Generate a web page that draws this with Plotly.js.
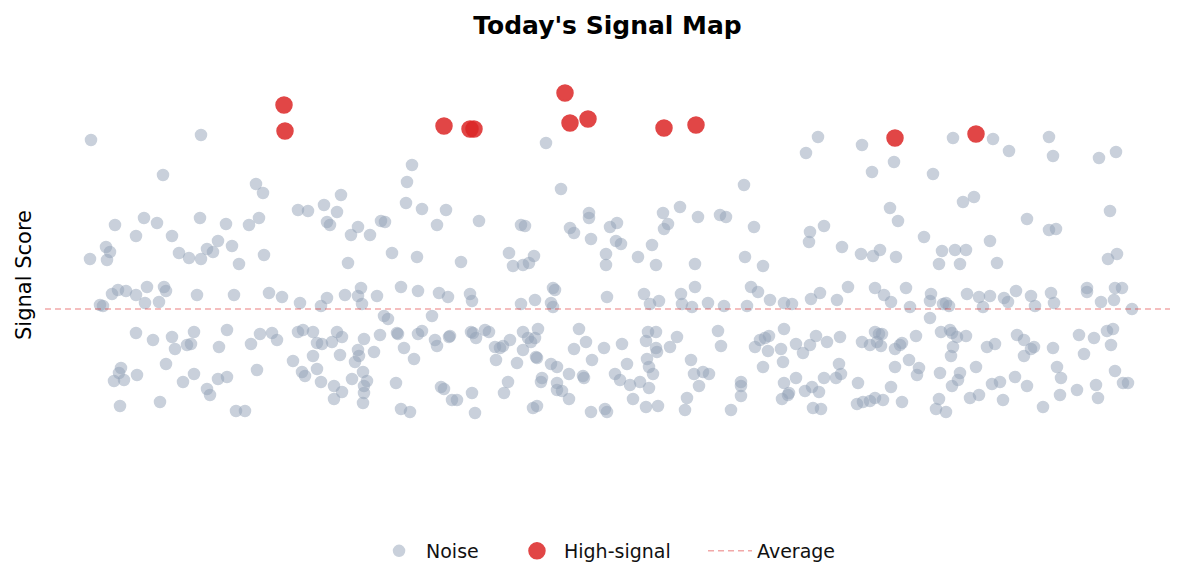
<!DOCTYPE html>
<html>
<head>
<meta charset="utf-8">
<script src="https://cdn.plot.ly/plotly-3.0.1.min.js"></script>
<style>html,body{margin:0;padding:0;background:#fff;}#chart{width:1185px;height:584px;}</style>
</head>
<body>
<div id="chart"></div>
<script>
var chartTitle = "Today's Signal Map";
var yTitle = "Signal Score";
var seriesNames = ["Noise", "High-signal", "Average"];

var noiseX = [46,156,118,211,218,296,253,263,279,292,282,285,70,99,112,155,181,204,214,91,127,61,65,134,162,173,168,187,219,45,144,156,194,62,
67,73,81,91,102,100,114,119,121,152,189,224,237,255,282,276,300,55,58,91,108,127,130,142,146,149,182,174,206,215,227,232,253,258,268,272,277,287,292,297,295,268,248,272,257,260,276,289,297,289,76,74,69,79,92,121,149,138,173,182,162,165,212,75,115,191,200,
501,367,362,516,361,377,401,544,544,565,313,306,325,336,340,392,434,476,480,525,529,546,347,372,464,489,561,303,416,468,478,484,561,
313,316,317,332,356,373,394,403,425,427,476,490,508,510,506,508,562,339,343,387,319,335,352,353,373,377,390,392,405,404,426,428,431,440,444,450,455,458,465,478,483,486,490,493,478,451,472,491,492,534,529,541,559,547,506,512,524,497,496,538,539,512,512,517,524,313,314,310,329,359,369,318,307,322,319,319,318,351,396,399,407,412,427,463,459,356,365,430,488,492,546,560,562,
773,761,817,827,699,635,618,623,619,653,675,681,709,572,571,576,607,765,764,779,797,816,828,593,700,
611,650,718,599,605,614,636,637,647,650,663,679,702,706,713,725,739,747,766,775,792,803,830,603,611,601,611,612,577,582,570,575,585,595,604,602,604,608,625,632,673,676,646,649,658,664,654,642,640,588,601,613,696,696,696,686,710,715,720,724,723,718,736,739,738,739,751,758,765,771,782,795,751,737,743,744,760,767,774,768,776,779,791,796,794,813,812,818,825,830,817,825,830,
908,948,964,1004,1008,1054,1071,849,888,918,929,845,853,982,1004,1011,1065,879,835,851,897,910,921,945,1072,1063,
894,915,952,839,846,861,865,886,885,898,901,904,922,934,938,945,959,963,971,986,990,1006,1009,1042,1042,1056,1070,1069,1077,1087,885,834,837,832,836,850,857,855,871,864,874,872,850,846,838,857,896,905,907,912,921,908,906,895,915,913,907,894,891,901,931,925,934,942,950,947,955,958,970,972,979,979,986,989,982,998,1008,1012,1016,1015,1032,1034,1039,1049,1051,1053,1062,1068,1066,1070,1078,1083];

var noiseY = [16.9,17.4,13.4,12.5,11.6,11.4,9.9,9.8,10.4,9.7,8.7,8.4,8.4,9.1,8.6,9.1,8.5,8.4,9.1,7.3,7.3,6.2,5.7,5.6,6.0,6.8,5.7,6.3,5.4,5.0,5.1,5.0,4.5,4.9,
1.5,1.9,1.8,1.4,2.2,0.6,0.7,2.2,1.8,1.4,1.4,1.6,1.2,0.6,1.1,0.3,1.4,0.4,0.3,-2.4,-3.1,-2.8,-4.0,-3.6,-3.5,-2.3,-2.1,-3.8,-3.5,-2.5,-2.4,-3.1,-2.3,-2.1,-2.3,-3.4,-3.5,-3.3,-2.3,-2.8,-4.6,-4.7,-5.2,-6.0,-6.3,-6.7,-7.3,-7.7,-8.3,-9.0,-5.9,-6.4,-7.2,-7.1,-6.6,-5.5,-6.5,-7.3,-7.0,-6.8,-8.0,-8.6,-6.1,-9.7,-9.3,-10.2,-10.2,
16.6,14.4,12.7,12.0,10.6,10.0,9.9,9.6,9.1,8.2,8.2,7.4,7.4,8.8,8.7,8.4,8.8,8.4,8.3,8.1,7.6,7.0,5.6,5.2,5.6,5.3,5.5,4.6,4.7,4.3,4.4,4.6,4.4,
1.3,2.1,0.5,1.3,2.2,1.8,1.6,1.2,1.5,0.8,0.5,0.9,2.1,1.9,0.6,0.2,1.2,-0.7,-1.0,-0.7,-3.0,-2.6,-2.4,-2.5,-2.5,-2.2,-3.1,-3.7,-2.7,-2.8,-2.3,-2.4,-2.9,-2.1,-2.3,-3.8,-3.9,-3.7,-3.1,-2.3,-2.9,-3.3,-2.9,-2.0,-4.1,-5.1,-5.4,-4.8,-4.9,-2.0,-4.0,-3.3,-3.9,-5.1,-5.5,-5.8,-6.5,-6.9,-7.3,-6.7,-6.9,-7.4,-8.1,-8.2,-9.0,-4.1,-4.7,-5.3,-4.3,-3.9,-5.0,-6.3,-7.0,-7.2,-7.7,-8.4,-9.4,-7.4,-7.8,-8.0,-9.1,-9.1,-8.4,-7.3,-8.4,-10.0,-10.3,-10.4,-9.9,-9.7,-10.3,-10.0,-10.3,
17.2,15.6,16.4,13.7,12.4,10.2,9.6,8.5,8.0,9.2,9.4,9.2,8.2,8.6,6.8,6.5,6.4,7.7,6.7,8.3,6.2,5.5,5.3,5.2,5.2,
4.4,4.5,4.3,1.5,0.5,0.8,1.5,0.5,0.2,2.2,0.6,0.3,0.3,2.2,1.7,0.9,0.6,0.5,1.0,1.6,0.9,2.2,2.1,-2.3,-2.3,-3.2,-3.9,-4.3,-3.5,-5.5,-6.5,-7.1,-7.6,-7.3,-7.9,-5.0,-5.8,-6.5,-3.8,-2.8,-2.2,-3.7,-5.1,-6.5,-6.3,-6.5,-7.7,-8.9,-10.1,-9.0,-9.8,-9.7,-7.3,-7.7,-8.7,-10.1,-3.8,-3.1,-2.9,-2.7,-4.2,-5.8,-4.0,-2.0,-5.3,-7.4,-3.5,-4.4,-3.6,-2.7,-3.3,-2.8,-6.9,-9.0,-8.6,-8.4,-8.2,-7.8,-8.3,-9.9,-10.0,-6.9,-6.9,-6.5,-5.5,-7.4,-9.5,-9.3,-9.2,-8.9,-3.3,-3.6,-2.3,
17.1,17.0,15.8,17.2,15.3,15.1,15.7,14.7,13.5,10.7,11.2,10.1,8.8,9.0,7.9,8.0,9.8,7.2,5.9,5.2,5.8,5.9,5.9,6.8,5.5,5.0,
4.5,4.5,4.6,1.4,0.7,2.1,0.2,1.5,0.8,0.5,0.6,0.3,1.5,1.2,0.2,1.3,1.1,0.7,1.8,1.3,0.3,1.6,0.6,2.1,1.7,0.7,2.1,0.9,2.1,0.0,-0.9,-2.5,-2.5,-3.3,-3.7,-4.0,-3.4,-3.6,-2.7,-5.1,-5.9,-6.6,-5.8,-7.8,-9.1,-9.3,-2.3,-2.1,-2.4,-2.8,-2.7,-3.8,-4.7,-6.4,-6.4,-7.1,-7.7,-9.0,-10.0,-10.3,-5.8,-8.9,-8.6,-3.8,-3.5,-7.5,-7.3,-9.1,-6.8,-2.6,-3.1,-4.7,-4.0,-3.8,-7.7,-9.8,-3.9,-5.8,-6.9,-8.6,-8.1,-2.6,-4.5,-2.9,-7.6,-8.9,-2.2,-2.0,-3.6,-6.2,-7.4,-7.4];

var highX = [239,240,399,425,429,520,525,543,619,651,850,931];
var highY = [20.4,17.8,18.3,18.0,18.0,21.6,18.6,19.0,18.1,18.4,17.1,17.5];

var averageValue = 0;
var xRange = [0, 1125];
var yRange = [-19.6, 26.4];

var traces = [
  {
    type: 'scatter', mode: 'markers', name: seriesNames[0], legend: 'legend',
    x: noiseX, y: noiseY,
    marker: {size: 11, color: '#94a3b8', opacity: 0.5, line: {color: '#94a3b8', width: 1.5}},
    hoverinfo: 'skip'
  },
  {
    type: 'scatter', mode: 'markers', name: seriesNames[1], legend: 'legend2',
    x: highX, y: highY,
    marker: {size: 16, color: '#dc2626', opacity: 0.85, line: {color: '#dc2626', width: 1.5}},
    hoverinfo: 'skip'
  },
  {
    type: 'scatter', mode: 'lines', name: seriesNames[2], legend: 'legend3',
    x: xRange, y: [averageValue, averageValue],
    line: {color: 'rgba(220,38,38,0.4)', width: 1.5, dash: '6px,4px'},
    hoverinfo: 'skip'
  }
];

function legendAt(px) {
  return {orientation: 'h', x: px, xanchor: 'left', y: -0.1, yanchor: 'middle',
          font: {family: 'DejaVu Sans, sans-serif', size: 19, color: '#111111'}, itemwidth: 44,
          bgcolor: 'rgba(0,0,0,0)'};
}

var layout = {
  width: 1185, height: 584,
  paper_bgcolor: '#ffffff', plot_bgcolor: '#ffffff',
  font: {family: 'DejaVu Sans, sans-serif', color: '#111111', size: 17},
  margin: {l: 45, r: 15, t: 45, b: 79},
  title: {text: '<b>' + chartTitle + '</b>', x: 0.5, xref: 'paper', xanchor: 'center',
          y: 0.957, yref: 'container', yanchor: 'middle',
          font: {family: 'DejaVu Sans, sans-serif', size: 25, color: '#000000'}},
  xaxis: {range: xRange, showgrid: false, zeroline: false, showticklabels: false, showline: false, ticks: ''},
  yaxis: {range: yRange, showgrid: false, zeroline: false, showticklabels: false, showline: false, ticks: '',
          title: {text: yTitle, standoff: 6, font: {size: 21, color: '#000000'}}},
  showlegend: true,
  legend: legendAt(0.2907),
  legend2: legendAt(0.4133),
  legend3: legendAt(0.5849)
};

Plotly.newPlot('chart', traces, layout, {staticPlot: true, displayModeBar: false});
</script>
</body>
</html>
